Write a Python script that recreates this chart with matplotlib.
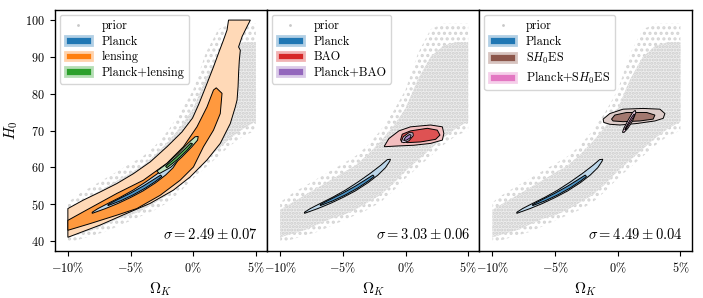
import numpy as np
import matplotlib
matplotlib.use('Agg')
import matplotlib.pyplot as plt
from matplotlib.patches import Patch
from matplotlib.lines import Line2D
from matplotlib.colors import to_rgb

plt.rcParams['font.family'] = 'serif'
plt.rcParams['font.serif'] = ['cmr10']
plt.rcParams['mathtext.fontset'] = 'cm'
plt.rcParams['axes.formatter.use_mathtext'] = True
plt.rcParams['hatch.linewidth'] = 1.5

# grey prior cloud: edges of the sample band (Omega_K in %, H0)
prior_omk = [-10, -9, -8, -7, -6, -5, -4, -3, -2, -1, 0, 1, 2, 3, 4, 5]
prior_lo = [41, 42, 43, 44.5, 46, 47, 48.5, 50.5, 52.5, 55.5, 59, 62, 65, 68, 70.5, 72.5]
prior_hi = [48.5, 50.5, 52.5, 54.5, 56.5, 58.5, 60.5, 63.5, 67, 71, 76, 84, 90, 93, 94, 94]
# looser outer edges (scattered samples)
prior_lo_wide = [39.5, 40.5, 41.5, 42.5, 44, 45.5, 47, 48.5, 50.5, 53.5, 57, 60, 63, 66, 68.5, 70]
prior_hi_wide = [50.5, 53, 55, 57, 59, 61, 63, 66, 70, 75, 81, 91, 97.5, 99, 99, 99]

# Planck (blue)
planck_95 = [(-8.06, 47.5), (-7.0, 48.8), (-6.0, 50.2), (-5.0, 51.8), (-4.0, 53.6), (-3.0, 55.8),
             (-2.2, 57.9), (-1.6, 59.9), (-1.25, 61.7), (-1.2, 62.2), (-1.45, 62.1), (-2.0, 60.5),
             (-2.8, 58.4), (-3.8, 56.0), (-4.8, 53.8), (-5.8, 51.9), (-6.8, 50.2), (-7.6, 48.8),
             (-8.06, 47.8)]
planck_68 = [(-6.8, 49.6), (-5.8, 50.9), (-4.8, 52.5), (-3.8, 54.4), (-3.0, 56.2), (-2.5, 57.5),
             (-2.6, 57.9), (-3.2, 56.6), (-4.0, 54.9), (-5.0, 53.0), (-6.0, 51.3), (-6.8, 49.9)]

# lensing (orange)
lensing_95 = [(-10, 48.8), (-8.77, 51.1), (-7.43, 53.3), (-6.09, 55.6), (-4.76, 58.3), (-3.42, 61.5),
              (-2.09, 65.6), (-0.9, 69.6), (-0.05, 73.4), (0.45, 77.2), (0.85, 80.6), (1.22, 83.8),
              (1.62, 87.3), (2.02, 91.0), (2.42, 94.6), (2.70, 97.3), (2.82, 100), (4.56, 100),
              (4.16, 97.3), (3.90, 95.5), (3.62, 92.7), (3.76, 91.8), (3.68, 89.1), (3.62, 85.5),
              (3.58, 81.9), (3.50, 78.3), (3.36, 76.4), (2.96, 71.9), (2.16, 66.5), (1.10, 62.0),
              (-0.24, 57.4), (-1.58, 53.8), (-3.44, 50.2), (-5.30, 47.5), (-7.44, 44.3), (-10, 41.0)]
lensing_68 = [(-10, 45.6), (-8.78, 47.9), (-6.10, 52.9), (-3.98, 56.5), (-2.10, 61.1), (-0.78, 65.6),
              (0.30, 71.0), (1.10, 76.4), (1.62, 81.0), (1.84, 81.6), (2.30, 80.1), (2.16, 74.6),
              (1.62, 70.1), (0.82, 65.6), (0.02, 60.1), (-1.04, 56.5), (-2.64, 52.4), (-4.50, 48.8),
              (-6.10, 47.0), (-8.24, 44.7), (-10, 42.9)]

# Planck+lensing (green)
pl_lensing_95 = [(-2.9, 59.0), (-2.1, 61.0), (-1.2, 63.8), (-0.4, 66.6), (0.15, 68.3), (0.4, 68.4),
                 (0.35, 67.4), (-0.1, 65.6), (-0.9, 62.8), (-1.8, 60.0), (-2.7, 58.3)]
pl_lensing_68 = [(-2.2, 60.3), (-1.4, 62.6), (-0.6, 65.2), (-0.2, 66.6), (-0.05, 66.4), (-0.5, 64.6),
                 (-1.3, 62.0), (-2.1, 59.9)]

# BAO (red)
bao_95 = [(-1.68, 65.8), (-1.33, 67.8), (-0.53, 69.9), (0.40, 71.0), (2.0, 71.5), (2.94, 71.0),
          (3.06, 69.2), (2.94, 67.4), (2.0, 66.5), (0.66, 66.0), (-0.66, 65.8), (-1.68, 65.6)]
bao_68 = [(-0.40, 67.4), (-0.26, 69.0), (0.40, 69.9), (1.74, 70.6), (2.54, 70.1), (2.75, 68.75),
          (2.4, 67.6), (1.2, 66.9), (0.14, 66.7)]

# Planck+BAO (purple)
pl_bao_95 = [(-0.34, 66.9), (-0.18, 68.3), (0.27, 69.4), (0.59, 69.4), (0.62, 68.6), (0.27, 67.2),
             (-0.13, 66.7)]
pl_bao_68 = [(-0.15, 67.3), (0.0, 68.2), (0.3, 68.9), (0.45, 68.8), (0.4, 68.1), (0.1, 67.4)]

# SH0ES (brown)
shoes_95 = [(-1.17, 73.1), (-0.64, 74.6), (0.42, 75.8), (2.02, 76.0), (3.36, 75.8), (3.76, 74.6),
            (3.62, 73.3), (2.96, 72.6), (1.5, 71.9), (0.16, 71.5), (-0.64, 71.7), (-1.12, 72.2)]
shoes_68 = [(-0.5, 73.1), (-0.24, 74.2), (0.7, 74.9), (2.3, 74.9), (2.96, 74.2), (2.82, 73.1),
            (1.76, 72.6), (0.42, 72.4), (-0.38, 72.6)]

# Planck+SH0ES (pink)
pl_shoes_95 = [(0.37, 69.5), (0.48, 70.6), (0.82, 72.8), (1.18, 74.9), (1.39, 75.5), (1.44, 74.9),
               (1.18, 72.6), (0.80, 70.6), (0.50, 69.5)]
pl_shoes_68 = [(0.55, 70.3), (0.8, 71.8), (1.1, 73.6), (1.3, 74.5), (1.35, 74.2), (1.1, 72.8),
               (0.8, 71.2), (0.62, 70.2)]

names = ['lensing', 'BAO', r'S$H_0$ES']
sigma_vals = [2.49, 3.03, 4.49]
sigma_errs = [0.07, 0.06, 0.04]
xticks = [-10, -5, 0, 5]
xticklabels = [r'$-10\%$', r'$-5\%$', r'$0\%$', r'$5\%$']
yticks = [40, 50, 60, 70, 80, 90, 100]

panels = [
    (('C1', lensing_95, lensing_68), ('C2', pl_lensing_95, pl_lensing_68)),
    (('C3', bao_95, bao_68), ('C4', pl_bao_95, pl_bao_68)),
    (('C5', shoes_95, shoes_68), ('C6', pl_shoes_95, pl_shoes_68)),
]


def light(c, a):
    r = np.array(to_rgb(c))
    return tuple(1 - a * (1 - r))


def contour(ax, col, c95, c68):
    x, y = zip(*c95)
    ax.fill(x, y, fc=light(col, 0.3), ec='k', lw=0.7, zorder=3)
    x, y = zip(*c68)
    ax.fill(x, y, fc=light(col, 0.8), ec='k', lw=0.7, zorder=3)


fig, axes = plt.subplots(1, 3, figsize=(7.03, 2.98), dpi=100, sharey=True)
fig.subplots_adjust(left=0.078, right=0.984, top=0.966, bottom=0.158, wspace=0)

for i, ax in enumerate(axes):
    (c1, a95, a68), (c2, b95, b68) = panels[i]
    px = prior_omk + prior_omk[::-1]
    ax.fill(px, prior_hi_wide + prior_lo_wide[::-1], fc='none', ec='#d4d4d4', lw=0, hatch='...', zorder=1)
    ax.fill(px, prior_hi + prior_lo[::-1], fc='#eeeeee', ec='#cdcdcd', lw=0, hatch='.....', zorder=1)
    contour(ax, c1, a95, a68)
    contour(ax, 'C0', planck_95, planck_68)
    contour(ax, c2, b95, b68)

    ax.set_xlim(-11.04, 5.9)
    ax.set_ylim(37.3, 102.7)
    ax.set_xticks(xticks)
    ax.set_xticklabels(xticklabels)
    ax.set_xlabel(r'$\Omega_K$', fontsize=11)
    ax.tick_params(labelsize=8.8, length=3.5, width=0.8)
    if i > 0:
        ax.tick_params(axis='y', left=False)
    for s in ax.spines.values():
        s.set_linewidth(1.0)
    ax.text(0.957, 0.035, r'$\sigma = %.2f \pm %.2f$' % (sigma_vals[i], sigma_errs[i]),
            transform=ax.transAxes, ha='right', va='bottom', fontsize=10.5)

    handles = [Line2D([], [], marker='o', ls='none', ms=2, color='#c8c8c8', mec='none'),
               Patch(fc='C0', ec=light('C0', 0.35), lw=2),
               Patch(fc=c1, ec=light(c1, 0.35), lw=2),
               Patch(fc=c2, ec=light(c2, 0.35), lw=2)]
    labels = ['prior', 'Planck', names[i], 'Planck+' + names[i]]
    ax.legend(handles, labels, loc='upper left', fontsize=8.8, labelspacing=0.28,
              handlelength=2.2, handletextpad=0.8, borderaxespad=0.4)

axes[0].set_yticks(yticks)
axes[0].set_ylabel(r'$H_0$', fontsize=11, labelpad=4)

fig.savefig('out.png', dpi=100)
